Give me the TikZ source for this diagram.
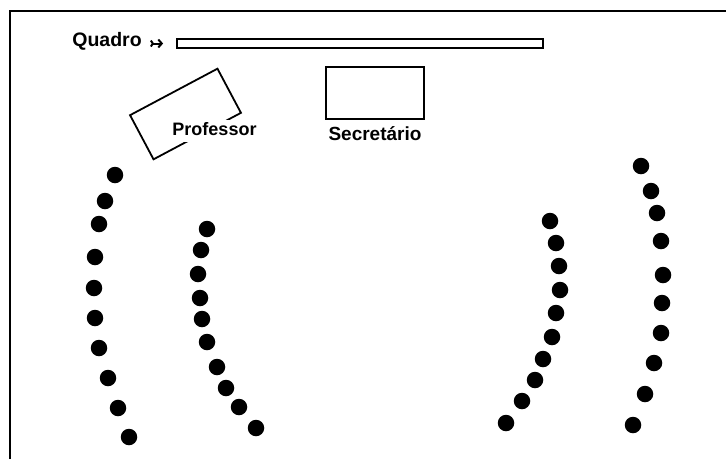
\documentclass[tikz,border=0pt]{standalone}
\usepackage{fontspec}
\setmainfont{Liberation Sans}
\usetikzlibrary{positioning}
\usetikzlibrary{arrows.meta}
\tikzset{x=1pt, y=-1pt, % one unit per pixel, y going down
every node/.style={ % Sets the font of all labels
font=\fontsize{18}{20}\selectfont\bfseries},
mesa/.style={ % Desks and the board
draw,
line width=1.8pt,
inner sep=0pt},
rotulo/.style={ % Text labels
inner sep=0pt},
aluno/.style={ % One chair
circle,
fill=black,
inner sep=0pt,
minimum size=16.5pt},
seta/.style={ % Pointer to the board
line width=2pt,
{Straight Barb[reversed,length=2pt,width=6pt]}-{Straight Barb[length=3.5pt,width=8pt]}}}

\begin{document}
\begin{tikzpicture}
	\useasboundingbox (0,0) rectangle (726,459);
	% room walls
	\draw[line width=2pt] (10,459) -- (10,10.5) -- (726,10.5);
	% board
	\node[mesa, minimum width=366pt, minimum height=9pt] (quadro) at (360,43.5) {};
	\node[rotulo, anchor=base, font=\fontsize{19.5}{21}\selectfont\bfseries] (lquadro) at (107,46.5) {Quadro};
	\draw[seta, shorten <=8pt, shorten >=13pt] (lquadro.east |- quadro.west) -- (quadro.west);
	% desks
	\node[mesa, minimum width=98pt, minimum height=52pt] (secretaria) at (375,93) {};
	\node[rotulo, below=6pt of secretaria, font=\fontsize{19}{21}\selectfont\bfseries] (lsecretaria) {Secretário};
	\node[mesa, minimum width=99pt, minimum height=50pt, rotate=28] (professor) at (185.5,114) {};
	\node[rotulo, fill=white, inner sep=2pt, text depth=4pt, anchor=base] (lprofessor) at (214.5,135.5) {Professor};
	% chairs, left side
	\foreach \x/\y [count=\i] in {115/175, 105/201, 99/224, 95/257, 94/288, 95/318, 99/348, 108/378, 118/408, 129/437}
		\node[aluno] (ae\i) at (\x,\y) {};
	\foreach \x/\y [count=\i] in {207/229, 201/250, 198/274, 200/298, 202/319, 207/342, 217/367, 226/388, 239/407, 256/428}
		\node[aluno] (ai\i) at (\x,\y) {};
	% chairs, right side
	\foreach \x/\y [count=\i] in {550/221, 556/243, 559/266, 560/290, 556/313, 552/337, 543/359, 535/380, 522/401, 506/423}
		\node[aluno] (bi\i) at (\x,\y) {};
	\foreach \x/\y [count=\i] in {641/166, 651/191, 657/213, 661/241, 663/275, 662/303, 661/333, 654/363, 645/394, 633/425}
		\node[aluno] (be\i) at (\x,\y) {};
\end{tikzpicture}
\end{document}
